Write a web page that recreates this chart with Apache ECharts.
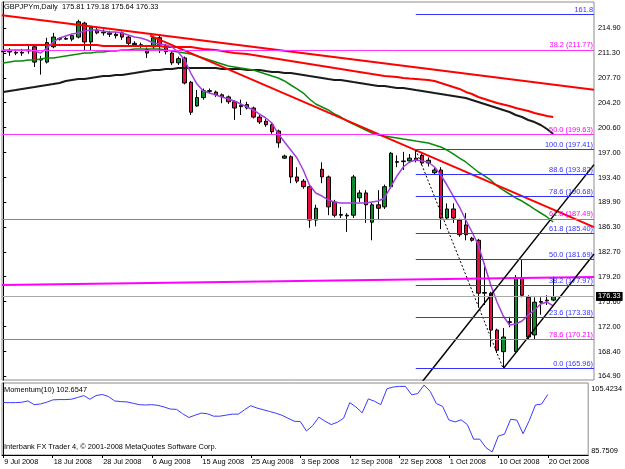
<!DOCTYPE html>
<html>
<head>
<meta charset="utf-8">
<script src="https://cdn.jsdelivr.net/npm/echarts@6/dist/echarts.min.js"></script>
<style>
html, body { margin: 0; padding: 0; background: #fff; }
#chart { width: 625px; height: 469px; }
</style>
</head>
<body>
<div id="chart"></div>
<script>
// bars are numbered 0..88 (9 Jul 2008 .. 20 Oct 2008, Sun-Fri sessions)
var tickBars = [0, 8, 16, 24, 32, 40, 48, 56, 64, 72, 80, 88];
var tickLabels = ['9 Jul 2008', '18 Jul 2008', '28 Jul 2008', '6 Aug 2008', '15 Aug 2008', '25 Aug 2008',
  '3 Sep 2008', '12 Sep 2008', '22 Sep 2008', '1 Oct 2008', '10 Oct 2008', '20 Oct 2008'];
var priceTicks = [214.90, 211.30, 207.70, 204.20, 200.60, 197.00, 193.40, 189.90, 186.30, 182.70,
  179.20, 175.60, 172.00, 168.40, 164.90];
var momTicks = [105.4234, 85.7509];

var opens = [211.6, 211.45, 211.4, 211.3, 211.6, 212.2, 210.3, 210.0, 212.2, 213.4,
  213.3, 213.3, 213.6, 215.6, 212.9, 214.6, 214.2, 214.2, 214.0, 214.2,
  213.6, 212.7, 212.5, 211.8, 212.2, 213.5, 212.4, 211.3, 209.9, 210.6,
  207.1, 203.7, 204.9, 205.8, 205.7, 205.3, 205.0, 204.3, 203.6, 203.9,
  203.4, 202.1, 201.5, 201.0, 200.1, 196.2, 196.4, 193.5, 192.9, 192.1,
  187.3, 194.6, 193.5, 189.9, 188.0, 188.0, 188.0, 190.5, 191.2, 187.0,
  189.5, 189.2, 192.1, 195.6, 195.7, 195.8, 196.2, 196.6, 195.5, 194.1,
  194.5, 187.6, 188.9, 187.3, 186.6, 184.7, 184.4, 176.8, 176.8, 171.5,
  168.4, 172.6, 168.4, 179.0, 176.2, 170.8, 175.5, 175.7, 175.81];
var closes = [211.5, 211.6, 211.3, 211.4, 211.7, 210.0, 210.4, 212.8, 213.6, 213.3,
  213.4, 213.8, 215.8, 212.9, 215.0, 214.2, 214.3, 214.0, 213.8, 213.6,
  212.7, 212.5, 212.3, 211.3, 213.5, 212.5, 211.5, 209.9, 210.5, 207.0,
  202.8, 204.9, 205.9, 205.9, 205.3, 205.0, 204.3, 203.4, 203.8, 203.4,
  202.1, 201.4, 201.0, 200.0, 198.4, 196.5, 193.5, 192.9, 192.1, 187.3,
  189.0, 193.5, 189.2, 188.0, 188.1, 187.9, 193.5, 191.2, 189.5, 189.5,
  189.0, 192.1, 196.9, 195.7, 195.8, 196.2, 195.9, 195.5, 195.9, 194.5,
  187.6, 188.9, 187.6, 185.2, 185.2, 184.4, 176.8, 176.9, 171.5, 168.6,
  170.5, 172.7, 179.0, 176.5, 170.5, 175.5, 175.6, 175.8, 176.33];
var lows = [211.0, 210.9, 211.0, 210.9, 211.2, 209.3, 208.2, 209.8, 212.0, 213.1,
  213.2, 213.0, 213.4, 211.7, 211.7, 214.0, 213.8, 213.6, 213.4, 213.2,
  212.4, 212.2, 212.0, 210.6, 211.9, 211.3, 211.1, 209.6, 209.6, 206.8,
  202.4, 203.6, 204.6, 205.5, 205.0, 204.1, 204.0, 201.7, 202.4, 203.2,
  201.9, 201.1, 200.7, 199.7, 197.7, 196.1, 192.6, 192.6, 191.8, 186.2,
  186.4, 192.6, 188.0, 187.7, 187.6, 185.6, 187.6, 189.9, 186.9, 184.4,
  187.3, 188.9, 191.8, 194.9, 194.5, 195.5, 195.6, 195.2, 195.0, 193.8,
  186.0, 187.4, 186.9, 184.9, 184.4, 184.2, 174.7, 175.1, 169.1, 168.2,
  165.96, 171.9, 168.3, 176.2, 170.1, 170.1, 173.7, 175.1, 175.64];
var highs = [212.1, 212.0, 211.8, 211.9, 212.4, 212.3, 210.9, 213.5, 214.2, 213.6,
  213.6, 214.0, 216.1, 215.8, 215.2, 214.9, 214.7, 214.5, 214.3, 214.4,
  213.9, 213.0, 212.8, 212.1, 213.8, 213.8, 212.6, 211.5, 210.8, 210.8,
  207.3, 206.0, 206.2, 206.2, 205.9, 205.5, 205.2, 204.5, 204.6, 204.3,
  203.6, 202.4, 201.8, 201.2, 200.3, 196.7, 196.6, 194.9, 193.2, 192.3,
  189.5, 195.6, 193.7, 190.2, 189.2, 188.3, 193.8, 191.6, 191.6, 189.8,
  191.6, 192.4, 197.1, 196.6, 197.1, 196.8, 197.41, 196.9, 196.3, 194.8,
  194.9, 189.7, 189.7, 187.5, 188.3, 184.9, 184.6, 181.1, 177.0, 171.7,
  171.8, 173.4, 179.4, 181.7, 176.5, 176.2, 176.2, 176.5, 179.18];

// moving averages as drawn on the chart
var maPurple = [211.74, 211.74, 211.74, 211.74, 211.74, 211.60, 211.31, 212.03, 212.89, 213.46,
  213.75, 214.04, 214.18, 214.47, 214.61, 214.61, 214.47, 214.33, 214.33, 214.18,
  213.89, 213.61, 213.46, 213.18, 212.75, 212.60, 212.46, 212.17, 211.45, 210.30,
  208.43, 206.85, 205.85, 205.56, 205.27, 204.99, 204.70, 204.41, 203.98, 203.55,
  203.12, 202.54, 201.97, 201.25, 199.67, 198.52, 197.37, 196.22, 194.50, 192.34,
  191.19, 190.76, 190.19, 189.90, 189.76, 189.76, 189.76, 189.76, 189.76, 189.90,
  190.04, 190.48, 192.06, 193.64, 194.93, 195.65, 195.93, 195.79, 195.65, 194.93,
  193.78, 192.34, 190.76, 189.18, 187.31, 185.59, 183.72, 180.85, 177.97, 175.53,
  173.52, 172.23, 172.37, 172.80, 173.66, 174.38, 175.24, 175.53, 174.96];
var maGreen = [209.87, 210.02, 210.16, 210.16, 210.30, 210.30, 210.45, 210.59, 210.59, 210.73,
  210.88, 211.02, 211.16, 211.31, 211.31, 211.45, 211.45, 211.60, 211.60, 211.74,
  211.74, 211.88, 211.88, 211.88, 211.88, 211.88, 211.74, 211.60, 211.45, 211.31,
  211.16, 210.88, 210.59, 210.30, 210.02, 209.73, 209.44, 209.30, 209.15, 209.01,
  208.87, 208.58, 208.29, 208.00, 207.72, 207.29, 206.71, 206.14, 205.56, 204.70,
  203.98, 203.55, 203.12, 202.54, 202.11, 201.54, 201.11, 200.68, 200.25, 199.81,
  199.53, 199.38, 199.24, 199.10, 198.95, 198.81, 198.66, 198.52, 198.38, 198.09,
  197.80, 197.37, 196.80, 196.22, 195.65, 194.93, 194.21, 193.64, 193.06, 192.20,
  191.60, 191.05, 190.48, 190.04, 189.47, 188.89, 188.32, 187.75, 187.03];
var maBlack = [205.71, 205.85, 205.99, 206.14, 206.28, 206.42, 206.57, 206.71, 206.85, 207.00,
  207.29, 207.43, 207.57, 207.57, 207.72, 207.86, 208.00, 208.00, 208.15, 208.15,
  208.29, 208.43, 208.58, 208.72, 208.87, 208.87, 209.01, 209.01, 209.15, 209.15,
  209.15, 209.15, 209.15, 209.15, 209.15, 209.01, 209.01, 209.01, 209.01, 208.87,
  208.87, 208.87, 208.72, 208.58, 208.58, 208.43, 208.43, 208.29, 208.15, 208.00,
  207.86, 207.72, 207.57, 207.43, 207.43, 207.29, 207.14, 207.00, 206.85, 206.71,
  206.57, 206.57, 206.42, 206.28, 206.28, 206.14, 205.99, 205.85, 205.71, 205.56,
  205.42, 205.27, 205.13, 204.99, 204.84, 204.56, 204.27, 203.98, 203.69, 203.41,
  203.12, 202.83, 202.40, 202.11, 201.68, 201.39, 200.96, 200.39, 199.67];
var maRed = [212.46, 212.46, 212.46, 212.46, 212.46, 212.46, 212.46, 212.46, 212.46, 212.46,
  212.46, 212.46, 212.46, 212.46, 212.46, 212.46, 212.31, 212.31, 212.31, 212.31,
  212.31, 212.31, 212.31, 212.31, 212.31, 212.31, 212.17, 212.17, 212.17, 212.17,
  212.17, 212.03, 211.88, 211.81, 211.74, 211.60, 211.45, 211.31, 211.24, 211.16,
  211.02, 210.88, 210.73, 210.59, 210.45, 210.30, 210.16, 210.02, 209.87, 209.73,
  209.58, 209.44, 209.30, 209.15, 209.01, 208.87, 208.72, 208.58, 208.43, 208.29,
  208.15, 208.00, 207.93, 207.86, 207.72, 207.64, 207.57, 207.50, 207.43, 207.29,
  207.00, 206.71, 206.42, 206.14, 205.71, 205.42, 204.99, 204.70, 204.41, 204.13,
  203.91, 203.69, 203.41, 203.19, 202.97, 202.68, 202.47, 202.25, 202.11];

var momentum = [100.25, 100.25, 100.25, 100.35, 100.75, 99.65, 99.85, 100.35, 101.05, 101.14,
  101.14, 101.24, 101.74, 102.33, 101.24, 102.33, 102.63, 102.04, 100.75, 100.55,
  100.45, 100.05, 99.65, 99.55, 99.65, 99.45, 98.96, 98.36, 98.26, 96.97,
  95.88, 96.57, 97.17, 96.97, 96.27, 96.27, 96.57, 96.87, 96.87, 98.16,
  99.35, 98.66, 98.16, 97.67, 97.17, 96.57, 95.68, 94.79, 94.69, 91.91,
  93.50, 95.98, 94.79, 93.80, 94.49, 95.68, 100.25, 98.96, 97.27, 101.34,
  100.65, 99.65, 104.32, 104.82, 105.01, 105.01, 102.53, 102.93, 105.4234, 103.52,
  99.95, 99.15, 95.18, 94.59, 95.18, 93.80, 89.52, 89.52, 87.04, 85.7509,
  90.42, 91.01, 95.38, 95.08, 91.11, 94.99, 99.55, 99.85, 102.6547];

// fibonacci levels
var fibBlueLevels = ['161.8', '100.0', '88.6', '78.6', '61.8', '50.0', '38.2', '23.6', '0.0'];
var fibBluePrices = [216.85, 197.41, 193.82, 190.68, 185.40, 181.69, 177.97, 173.38, 165.96];
var fibBlueStart = 66;
var fibPinkLevels = ['38.2', '50.0', '61.8', '78.6'];
var fibPinkPrices = [211.77, 199.63, 187.49, 170.21];
var bid = 176.33;

// trend lines, [bar, price]
var trendRedLong = [[-0.2, 216.73], [94.52, 206.02]];
var trendRedSteep = [[23.5, 213.8], [94.52, 186.3]];
var trendPink = [[-0.2, 177.97], [94.52, 179.12]];
var channelUpper = [[67, 164.03], [94.52, 195.27]];
var channelLower = [[80, 165.96], [94.52, 182.44]];
var fibTrend = [[66, 197.41], [80, 165.96]];

var FONT = '"Liberation Sans", Arial, sans-serif';
var FS = 7.4;
var X_MIN = -0.2, X_MAX = 94.52;

function withIndex(arr) {
  return arr.map(function (v, i) { return [i, v]; });
}
function lineSeries(data, color, width, dash) {
  return {
    type: 'line', xAxisIndex: 0, yAxisIndex: 0, data: data,
    showSymbol: false, symbol: 'none', silent: true, z: 3,
    lineStyle: { color: color, width: width, type: dash || 'solid' }
  };
}

var candleData = opens.map(function (o, i) {
  return [i, o, closes[i], lows[i], highs[i]];
});

var marks = [];
fibPinkPrices.forEach(function (p, k) {
  marks.push({
    yAxis: p,
    lineStyle: { color: '#ff33ff', width: 1, type: 'solid' },
    label: { show: true, position: 'insideEndTop', distance: 1, color: '#ff00ff',
      fontSize: FS, fontFamily: FONT, formatter: fibPinkLevels[k] + ' (' + p.toFixed(2) + ')' }
  });
});
fibBluePrices.forEach(function (p, k) {
  var txt = fibBlueLevels[k] === '161.8' ? '161.8' : fibBlueLevels[k] + ' (' + p.toFixed(2) + ')';
  marks.push([
    { coord: [fibBlueStart, p],
      lineStyle: { color: '#3333ff', width: 1, type: 'solid' },
      label: { show: true, position: 'insideEndTop', distance: 1, color: '#3333ff',
        fontSize: FS, fontFamily: FONT, formatter: txt } },
    { coord: [X_MAX, p] }
  ]);
});
marks.push({
  yAxis: bid,
  lineStyle: { color: '#a8a8a8', width: 1, type: 'solid' },
  label: { show: true, position: 'end', distance: 2, color: '#fff', backgroundColor: '#000',
    padding: [1, 2, 1, 2], fontSize: FS, fontFamily: FONT, formatter: bid.toFixed(2) }
});

var chart = echarts.init(document.getElementById('chart'), null, { renderer: 'canvas' });
chart.setOption({
  animation: false,
  backgroundColor: '#ffffff',
  title: [
    { text: 'GBPJPYm,Daily  175.81 179.18 175.64 176.33', left: 4, top: 3, padding: 0,
      textStyle: { fontSize: FS, fontWeight: 'normal', color: '#000', fontFamily: FONT } },
    { text: 'Momentum(10) 102.6547', left: 4, top: 386, padding: 0,
      textStyle: { fontSize: FS, fontWeight: 'normal', color: '#000', fontFamily: FONT } },
    { text: 'Interbank FX Trader 4, \u00a9 2001-2008 MetaQuotes Software Corp.', left: 4, top: 443, padding: 0,
      textStyle: { fontSize: FS, fontWeight: 'normal', color: '#000', fontFamily: FONT } }
  ],
  grid: [
    { left: 2, top: 2, width: 592, height: 378, show: true, borderColor: '#8c8c8c', borderWidth: 1 },
    { left: 2, top: 383, width: 592, height: 72, show: true, borderColor: '#8c8c8c', borderWidth: 1 }
  ],
  xAxis: [
    { type: 'value', gridIndex: 0, min: X_MIN, max: X_MAX, show: false },
    { type: 'value', gridIndex: 1, min: X_MIN, max: X_MAX,
      axisLine: { show: true, lineStyle: { color: '#000' } },
      axisTick: { show: true, customValues: tickBars, length: 3, lineStyle: { color: '#000' } },
      axisLabel: { customValues: tickBars, align: 'left', margin: 3, padding: [0, 0, 0, 1],
        color: '#000', fontSize: FS, fontFamily: FONT,
        formatter: function (v) { return tickLabels[tickBars.indexOf(Math.round(v))] || ''; } },
      splitLine: { show: false } }
  ],
  yAxis: [
    { type: 'value', gridIndex: 0, position: 'right', min: 164.325, max: 218.636,
      axisLine: { show: true, lineStyle: { color: '#000' } },
      axisTick: { show: true, customValues: priceTicks, length: 3, lineStyle: { color: '#000' } },
      axisLabel: { customValues: priceTicks, margin: 4, color: '#000', fontSize: FS, fontFamily: FONT,
        formatter: function (v) { return v.toFixed(2); } },
      splitLine: { show: false } },
    { type: 'value', gridIndex: 1, position: 'right', min: 84.87, max: 106.01,
      axisLine: { show: true, lineStyle: { color: '#000' } },
      axisTick: { show: false },
      axisLabel: { customValues: momTicks, margin: 3, color: '#000', fontSize: FS, fontFamily: FONT,
        formatter: function (v) { return v > 100 ? '{t|' + v.toFixed(4) + '}' : '{b|' + v.toFixed(4) + '}'; },
        rich: { t: { padding: [7, 0, 0, 0], fontSize: FS, fontFamily: FONT },
                b: { padding: [0, 0, 3, 0], fontSize: FS, fontFamily: FONT } } },
      splitLine: { show: false } }
  ],
  series: [
    {
      type: 'candlestick', xAxisIndex: 0, yAxisIndex: 0,
      data: candleData, encode: { x: 0, y: [1, 2, 3, 4] },
      barWidth: 4, z: 2,
      itemStyle: { color: '#0f8a2c', color0: '#e5103f', borderColor: '#000', borderColor0: '#000', borderWidth: 1 },
      markLine: { silent: true, symbol: ['none', 'none'], animation: false, data: marks }
    },
    lineSeries(withIndex(maBlack), '#1a1a1a', 2),
    lineSeries(withIndex(maRed), '#ff0000', 2),
    lineSeries(withIndex(maGreen), '#0a8a0a', 1.5),
    lineSeries(withIndex(maPurple), '#a040e0', 1.5),
    lineSeries(trendRedLong, '#ff0000', 2),
    lineSeries(trendRedSteep, '#ff0000', 2),
    lineSeries(trendPink, '#ff00ff', 2),
    lineSeries(channelUpper, '#000000', 1.5),
    lineSeries(channelLower, '#000000', 1.5),
    lineSeries(fibTrend, '#000000', 1, [2, 2]),
    {
      type: 'line', xAxisIndex: 1, yAxisIndex: 1, data: withIndex(momentum),
      showSymbol: false, symbol: 'none', silent: true,
      lineStyle: { color: '#3a3aff', width: 1 }
    }
  ]
});
</script>
</body>
</html>
